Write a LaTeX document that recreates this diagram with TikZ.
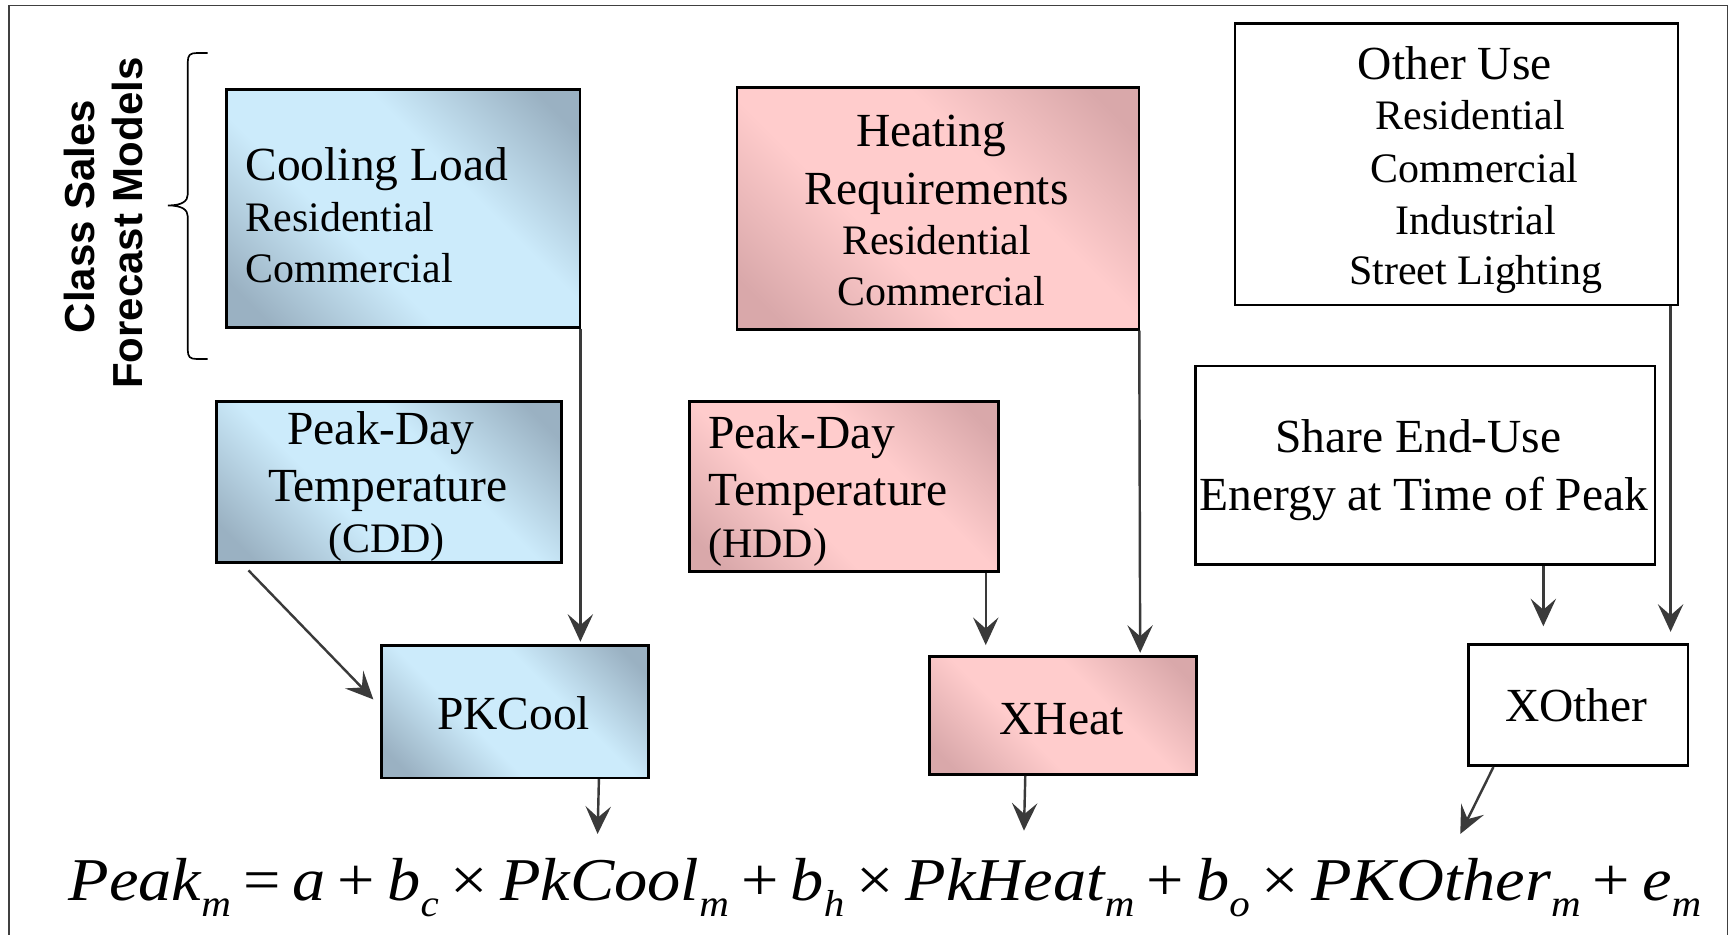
\documentclass[tikz,border=0pt]{standalone}
\usepackage{fontspec}
\setmainfont{Liberation Serif}
\setsansfont{Liberation Sans}
\usepackage{graphicx}
\usetikzlibrary{arrows.meta}
\definecolor{blueL}{HTML}{CCEBFB}
\definecolor{blueD}{HTML}{9AB1C2}
\definecolor{pinkL}{HTML}{FFCCCC}
\definecolor{pinkD}{HTML}{D9A8AA}
\definecolor{arrc}{HTML}{3A3A3A}
\pgfdeclareverticalshading{bluesh}{100bp}{color(0bp)=(blueD); color(20bp)=(blueD); color(40bp)=(blueL); color(60bp)=(blueL); color(80bp)=(blueD); color(100bp)=(blueD)}
\pgfdeclareverticalshading{pinksh}{100bp}{color(0bp)=(pinkD); color(20bp)=(pinkD); color(40bp)=(pinkL); color(60bp)=(pinkL); color(80bp)=(pinkD); color(100bp)=(pinkD)}
\newcommand\fA{\fontsize{43}{47}\selectfont}
\newcommand\fB{\fontsize{38}{46}\selectfont}
\newcommand\sbx[1]{\raisebox{-15pt}{\fontsize{34}{34}\selectfont\itshape #1}}
\newcommand\opx[1]{\hspace{10pt}{\upshape #1}\hspace{10pt}}
\begin{document}
\begin{tikzpicture}[x=1pt,y=-1pt,
  boxbase/.style={draw=black, line width=2.4pt, rectangle, inner sep=0pt, anchor=north west},
  bluebox/.style={boxbase, shade, shading=bluesh, shading angle=-45},
  pinkbox/.style={boxbase, shade, shading=pinksh, shading angle=-45},
  whitebox/.style={boxbase, fill=white},
  tl/.style={inner sep=0pt, anchor=base west},
  tc/.style={inner sep=0pt, anchor=base},
  arr/.style={draw=arrc, line width=2.2pt, -{Stealth[length=25pt,width=23pt,inset=10pt]}},
]
\useasboundingbox (0,0) rectangle (1568,846);
% frame
\draw[line width=1.5pt, black!75] (8,870) -- (8,5) -- (1564,5) -- (1564,870);

% brace
\draw[line width=1.5pt, black] (188,48) -- (178,48) .. controls (172,48) and (170,50) .. (170,56) -- (170,176)
  .. controls (170,182) and (165,186) .. (152,186) .. controls (165,186) and (170,190) .. (170,196)
  -- (170,317) .. controls (170,323) and (172,325) .. (178,325) -- (188,325);

% vertical title
\node[rotate=90, tc, font=\fontsize{38}{40}\selectfont\sffamily\bfseries] (cls1) at (86,196) {Class Sales};
\node[rotate=90, tc, font=\fontsize{38}{40}\selectfont\sffamily\bfseries] (cls2) at (129,202) {Forecast Models};

% boxes
\node[bluebox, minimum width=320pt, minimum height=215pt] (cool) at (204,80) {};
\node[pinkbox, minimum width=364pt, minimum height=219pt] (heat) at (666,78) {};
\node[whitebox, minimum width=401pt, minimum height=255pt] (other) at (1117,20) {};
\node[bluebox, minimum width=312pt, minimum height=146pt] (cdd) at (195,362) {};
\node[pinkbox, minimum width=280pt, minimum height=154pt] (hdd) at (623,362) {};
\node[whitebox, minimum width=416pt, minimum height=180pt] (share) at (1081,330) {};
\node[bluebox, minimum width=242pt, minimum height=120pt] (pkcool) at (344,583) {};
\node[pinkbox, minimum width=242pt, minimum height=107pt] (xheat) at (840,593) {};
\node[whitebox, minimum width=199pt, minimum height=110pt] (xother) at (1328,582) {};

% texts: cooling
\node[tl, font=\fA] (c1) at (222,163) {Cooling Load};
\node[tl, font=\fB] (c2) at (222,210) {Residential};
\node[tl, font=\fB] (c3) at (222,256) {Commercial};
% heating
\node[tc, font=\fA] (h1) at (843,133) {Heating};
\node[tc, font=\fA] (h2) at (848,185) {Requirements};
\node[tc, font=\fB] (h3) at (848,230) {Residential};
\node[tc, font=\fB] (h4) at (852,277) {Commercial};
% other use
\node[tc, font=\fA] (o1) at (1317,72) {Other Use};
\node[tc, font=\fB] (o2) at (1331,117) {Residential};
\node[tc, font=\fB] (o3) at (1335,165) {Commercial};
\node[tc, font=\fB] (o4) at (1336,212) {Industrial};
\node[tc, font=\fB] (o5) at (1336,258) {Street Lighting};
% cdd
\node[tc, font=\fA] (d1) at (345,402) {Peak-Day};
\node[tc, font=\fA] (d2) at (351,454) {Temperature};
\node[tc, font=\fB] (d3) at (350,500) {(CDD)};
% hdd
\node[tl, font=\fA] (g1) at (641,406) {Peak-Day};
\node[tl, font=\fA] (g2) at (641,458) {Temperature};
\node[tl, font=\fB] (g3) at (641,505) {(HDD)};
% share
\node[tc, font=\fA] (s1) at (1284,410) {Share End-Use};
\node[tc, font=\fA] (s2) at (1289,462) {Energy at Time of Peak};
% small boxes
\node[tc, font=\fA] (p1) at (465,660) {PKCool};
\node[tc, font=\fA] (x1) at (961,665) {XHeat};
\node[tc, font=\fA] (y1) at (1427,653) {XOther};

% equation
\node[inner sep=0pt, anchor=base west] (eq) at (62,815) {\resizebox{1478pt}{\height}{\fontsize{55}{60}\selectfont\itshape
 Peak\sbx{m}\opx{=}a\opx{+}b\sbx{c}\opx{×}PkCool\sbx{m}\opx{+}b\sbx{h}\opx{×}PkHeat\sbx{m}\opx{+}b\sbx{o}\opx{×}PKOther\sbx{m}\opx{+}e\sbx{m}}};

\coordinate (e1) at (541,755);
\coordinate (e2) at (927,752);
\coordinate (e3) at (1322,755);

% arrows
\draw[arr, shorten >=2pt] ([xshift=-1pt]cool.south east) -- ([xshift=-1pt]cool.south east |- pkcool.north);
\draw[arr] ([shift={(30pt,-6pt)}]cdd.south west) -- ([shift={(-6pt,11pt)}]pkcool.west);
\draw[arr, shorten >=9pt] ([xshift=-13pt]hdd.south east) -- ([xshift=-13pt]hdd.south east |- xheat.north);
\draw[arr, shorten >=2pt] ([xshift=-1pt]heat.south east) -- ([xshift=70pt]xheat.north);
\draw[arr, shorten >=15pt] ([xshift=107pt]share.south) -- ([xshift=107pt]share.south |- xother.north);
\draw[arr, shorten >=10pt] ([xshift=-8pt]other.south east) -- ([xshift=-8pt]other.south east |- xother.north);
\draw[arr] ([xshift=76pt]pkcool.south) -- (e1);
\draw[arr] ([xshift=-34pt]xheat.south) -- (e2);
\draw[arr] ([xshift=24pt]xother.south west) -- (e3);
\end{tikzpicture}
\end{document}
